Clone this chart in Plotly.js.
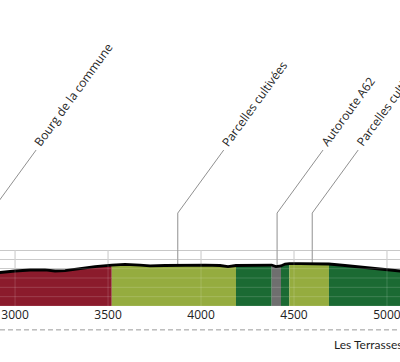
<!DOCTYPE html>
<html>
<head>
<meta charset="utf-8">
<script src="https://cdn.plot.ly/plotly-3.0.1.min.js"></script>
<style>html,body{margin:0;padding:0;background:#fff;}#chart{width:400px;height:362px;}</style>
</head>
<body>
<div id="chart"></div>
<script>
// Elevation profile (distance in m, elevation in m)
const profileX = [2866, 2919, 3000, 3081, 3161, 3215, 3269, 3349, 3430, 3520, 3591, 3672, 3726, 3806, 3914, 4022, 4102, 4145, 4188, 4263, 4328, 4380, 4403, 4430, 4452, 4475, 4532, 4613, 4688, 4774, 4855, 4935, 5016, 5070, 5124];
const profileY = [175.4, 175.9, 177.5, 178.6, 178.6, 177.5, 178.0, 180.2, 182.3, 183.9, 184.5, 183.9, 182.9, 183.4, 183.9, 183.9, 183.4, 182.3, 183.4, 183.9, 183.9, 183.9, 182.3, 182.9, 185.0, 185.5, 185.5, 185.5, 185.0, 183.4, 181.8, 180.2, 178.6, 177.0, 176.4];

// Land-use segments along the profile
const segStart = [2866, 3520, 4188, 4380, 4430, 4475, 4688];
const segEnd   = [3520, 4188, 4380, 4430, 4475, 4688, 5124];
const segType  = ['Bourg', 'Parcelles', 'Bois', 'Autoroute', 'Bois', 'Parcelles', 'Bois'];

// Callout labels
const labelText   = ['Bourg de la commune', 'Parcelles cultivées', 'Autoroute A62', 'Parcelles cultivées'];
const labelX      = [2866, 3875, 4409, 4598];
const labelGround = [175.4, 183.6, 182.5, 185.5];

// Axis ticks
const xTicks = [3000, 3500, 4000, 4500, 5000];
const xTickText = ['3000', '3500', '4000', '4500', '5000'];
const gridY = [140, 150, 160, 170, 180, 190, 200];

// Bottom zone label
const zoneLabel = 'Les Terrasses';

// ---- styles ----
const typeColor = {Bourg: '#8b1b2c', Parcelles: '#95ac3f', Bois: '#1b6a33', Autoroute: '#6f6f6f'};
const FONT = 'Open Sans, Noto Sans, sans-serif';
const yBottom = 140, yTop = 467.9;
const bendY = 239.6, endY = 307.1, diagDX = 247;

const traces = [];
for (let i = 0; i < segType.length; i++) {
  const xs = [], ys = [];
  for (let j = 0; j < profileX.length; j++) {
    if (profileX[j] >= segStart[i] && profileX[j] <= segEnd[i]) { xs.push(profileX[j]); ys.push(profileY[j]); }
  }
  traces.push({x: xs, y: ys, type: 'scatter', mode: 'lines', fill: 'tozeroy',
    fillcolor: typeColor[segType[i]], line: {width: 0, color: typeColor[segType[i]]}, hoverinfo: 'skip', showlegend: false});
}
// leader lines
for (let i = 0; i < labelText.length; i++) {
  traces.push({x: [labelX[i], labelX[i], labelX[i] + diagDX], y: [labelGround[i], bendY, endY],
    type: 'scatter', mode: 'lines', line: {color: '#909090', width: 1}, hoverinfo: 'skip', showlegend: false});
}
// profile line
traces.push({x: profileX, y: profileY, type: 'scatter', mode: 'lines',
  line: {color: '#000', width: 2.8}, hoverinfo: 'skip', showlegend: false});

const shapes = [];
xTicks.forEach(v => {
  shapes.push({type: 'line', xref: 'x', yref: 'y', x0: v, x1: v, y0: yBottom, y1: gridY[gridY.length - 1],
    line: {color: '#c4c4c4', width: 1}, layer: 'below'});
  shapes.push({type: 'line', xref: 'x', yref: 'y', x0: v, x1: v, y0: yBottom, y1: gridY[gridY.length - 1],
    line: {color: 'rgba(255,255,255,0.16)', width: 1}, layer: 'above'});
});
gridY.forEach(v => {
  shapes.push({type: 'line', xref: 'paper', yref: 'y', x0: 0, x1: 1, y0: v, y1: v,
    line: {color: 'rgba(255,255,255,0.16)', width: 1}, layer: 'above'});
});
shapes.push({type: 'line', xref: 'paper', yref: 'paper', x0: 0, x1: 1, y0: -0.078, y1: -0.078,
  line: {color: '#9a9a9a', width: 1, dash: '5px,3px'}});

const annotations = labelText.map((t, i) => ({
  x: labelX[i] + diagDX, y: endY, xref: 'x', yref: 'y', text: t, showarrow: false,
  textangle: -54, xanchor: 'left', yanchor: 'bottom', xshift: -9, yshift: -2,
  font: {family: FONT, size: 12, color: '#262626'}
}));
annotations.push({x: 0.83, y: -0.127, xref: 'paper', yref: 'paper', text: zoneLabel, showarrow: false,
  xanchor: 'left', yanchor: 'middle', font: {family: 'Lato, Open Sans, sans-serif', size: 12, color: '#1e1e1e'}});

const layout = {
  width: 400, height: 362,
  margin: {l: 0, r: 0, t: 0, b: 56, pad: 0},
  paper_bgcolor: '#fff', plot_bgcolor: '#fff',
  showlegend: false,
  xaxis: {range: [2919, 5070], tickvals: xTicks, ticktext: xTickText, showgrid: false, zeroline: false,
    showline: false, ticks: '', ticklabeloverflow: 'allow',
    tickfont: {family: FONT, size: 12, color: '#222'}, fixedrange: true},
  yaxis: {range: [yBottom, yTop], tickvals: gridY, showticklabels: false, showgrid: true, gridcolor: '#c4c4c4',
    gridwidth: 1, zeroline: false, showline: false, ticks: '', fixedrange: true},
  shapes: shapes,
  annotations: annotations
};

Plotly.newPlot('chart', traces, layout, {displayModeBar: false, staticPlot: true});
</script>
</body>
</html>
